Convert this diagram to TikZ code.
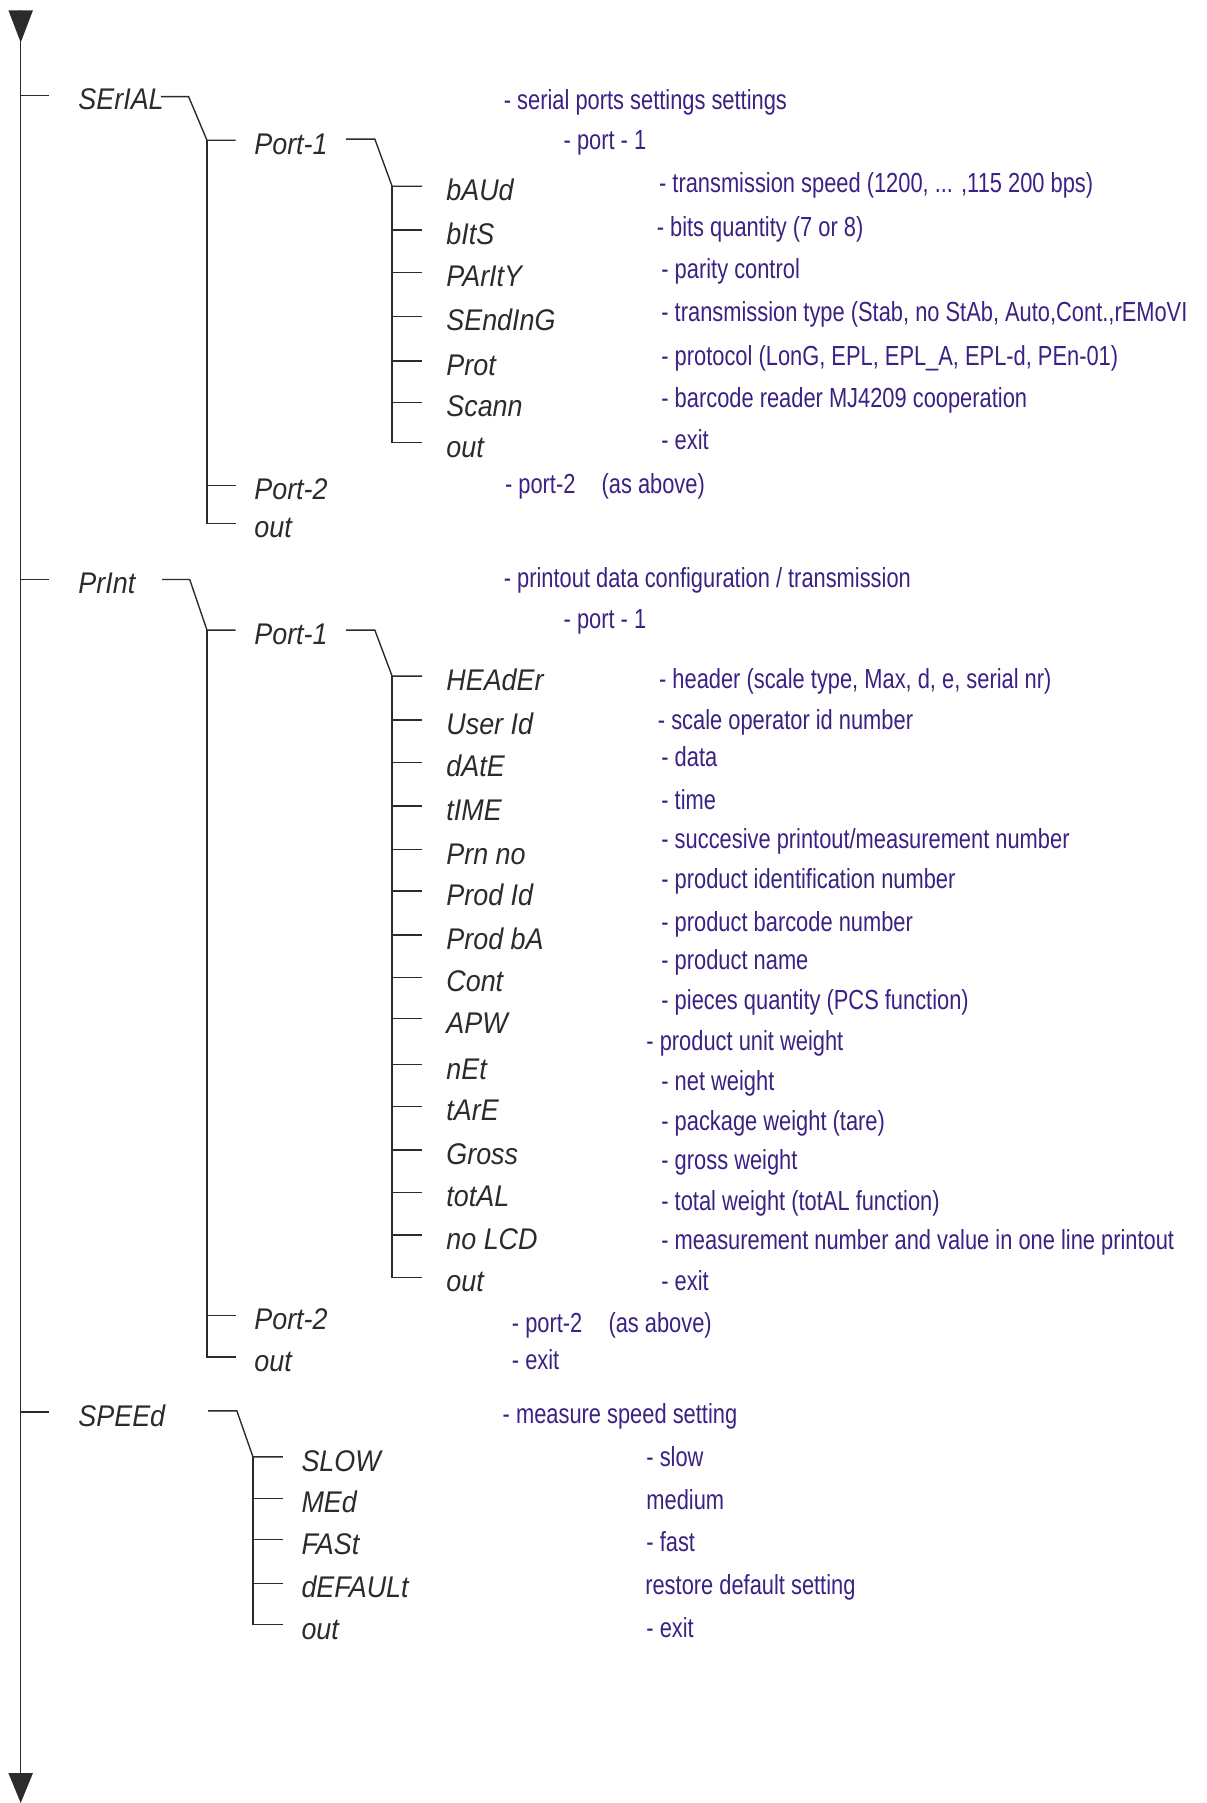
\documentclass[tikz,border=0pt]{standalone}
\usepackage{fontspec}
\setmainfont{Liberation Sans}
\newfontfamily\menufont[FakeStretch=0.9]{Liberation Sans}
\newfontfamily\notefont[FakeStretch=0.792]{Liberation Sans}
\usetikzlibrary{arrows.meta}
\definecolor{menugray}{HTML}{2B2B2B}
\definecolor{noteviolet}{HTML}{3B2184}
\tikzset{
  menu/.style={anchor=west,inner sep=0pt,text height=19bp,text depth=0bp,text=menugray,
    font=\menufont\itshape\fontsize{26bp}{30bp}\selectfont},
  note/.style={anchor=west,inner sep=0pt,text height=16bp,text depth=0bp,text=noteviolet,
    font=\notefont\fontsize{24bp}{28bp}\selectfont},
  tree/.style={draw=menugray,line width=1.2bp},
}
\begin{document}
\begin{tikzpicture}[x=1bp,y=-1bp,>=latex]
\useasboundingbox (0,0) rectangle (1049,1568);
%% main line
\coordinate (top) at (18,9);
\coordinate (bot) at (18,1568);
\draw [tree,{Triangle[reversed,width=21bp,length=28bp]}-{Triangle[width=21bp,length=26bp]}] (top) -- (bot);
%% SErIAL
\node (serial) at (68,86) [menu] {SErIAL};
\node (s1port1) at (221,125) [menu] {Port-1};
\node (s1baud) at (388,165) [menu] {bAUd};
\node (s1bits) at (388,203) [menu] {bItS};
\node (s1parity) at (388,240) [menu] {PArItY};
\node (s1sending) at (388,278) [menu] {SEndInG};
\node (s1prot) at (388,317) [menu] {Prot};
\node (s1scann) at (388,353) [menu] {Scann};
\node (s1p1out) at (388,388) [menu] {out};
\node (s1port2) at (221,425) [menu] {Port-2};
\node (s1out) at (221,458) [menu] {out};
%
\coordinate (k1a) at (140,84);
\coordinate (k1b) at (164,84);
\coordinate (k1c) at (180,122);
\coordinate (k11a) at (301,121);
\coordinate (k11b) at (326,121);
\coordinate (k11c) at (341,162);
\draw [tree] (top) |- ([xshift=-25bp,yshift=3bp]serial.west);
\draw [tree] (k1a) -- (k1b) -- (k1c) |- ([xshift=-16bp,yshift=3bp]s1port1.west);
\draw [tree] (k1c) |- ([xshift=-16bp,yshift=3bp]s1port2.west);
\draw [tree] (k1c) |- ([xshift=-16bp,yshift=3bp]s1out.west);
\draw [tree] (k11a) -- (k11b) -- (k11c) |- ([xshift=-21bp,yshift=3bp]s1baud.west);
\draw [tree] (k11c) |- ([xshift=-21bp,yshift=3bp]s1bits.west);
\draw [tree] (k11c) |- ([xshift=-21bp,yshift=3bp]s1parity.west);
\draw [tree] (k11c) |- ([xshift=-21bp,yshift=3bp]s1sending.west);
\draw [tree] (k11c) |- ([xshift=-21bp,yshift=3bp]s1prot.west);
\draw [tree] (k11c) |- ([xshift=-21bp,yshift=3bp]s1scann.west);
\draw [tree] (k11c) |- ([xshift=-21bp,yshift=3bp]s1p1out.west);
%
\node (d1serial) at (438,87) [note] {- serial ports settings settings};
\node (d1port1) at (490,122) [note] {- port - 1};
\node (d1baud) at (573,159) [note] {- transmission speed (1200, ... ,115 200 bps)};
\node (d1bits) at (571,198) [note] {- bits quantity (7 or 8)};
\node (d1parity) at (575,234) [note] {- parity control};
\node (d1sending) at (575,272) [note] {- transmission type (Stab, no StAb, Auto,Cont.,rEMoVI};
\node (d1prot) at (575,310) [note] {- protocol (LonG, EPL, EPL\_A, EPL-d, PEn-01)};
\node (d1scann) at (575,346) [note] {- barcode reader MJ4209 cooperation};
\node (d1p1out) at (575,383) [note] {- exit};
\node (d1port2) at (439,421) [note] {- port-2};
\node (d1above) at (523,421) [note] {(as above)};
%% PrInt
\node (print) at (68,507) [menu] {PrInt};
\node (s2port1) at (221,551) [menu] {Port-1};
\node (s2header) at (388,591) [menu] {HEAdEr};
\node (s2user) at (388,629) [menu] {User Id};
\node (s2date) at (388,666) [menu] {dAtE};
\node (s2time) at (388,704) [menu] {tIME};
\node (s2prn) at (388,742) [menu] {Prn no};
\node (s2prodid) at (388,778) [menu] {Prod Id};
\node (s2prodba) at (388,816) [menu] {Prod bA};
\node (s2cont) at (388,853) [menu] {Cont};
\node (s2apw) at (388,889) [menu] {APW};
\node (s2net) at (388,929) [menu] {nEt};
\node (s2tare) at (388,965) [menu] {tArE};
\node (s2gross) at (388,1003) [menu] {Gross};
\node (s2total) at (388,1040) [menu] {totAL};
\node (s2nolcd) at (388,1077) [menu] {no LCD};
\node (s2p1out) at (388,1114) [menu] {out};
\node (s2port2) at (221,1147) [menu] {Port-2};
\node (s2out) at (221,1183) [menu] {out};
%
\coordinate (k2a) at (141,504);
\coordinate (k2b) at (165,504);
\coordinate (k2c) at (180,548);
\coordinate (k21a) at (301,548);
\coordinate (k21b) at (326,548);
\coordinate (k21c) at (341,588);
\draw [tree] (top) |- ([xshift=-25bp,yshift=3bp]print.west);
\draw [tree] (k2a) -- (k2b) -- (k2c) |- ([xshift=-16bp,yshift=3bp]s2port1.west);
\draw [tree] (k2c) |- ([xshift=-16bp,yshift=3bp]s2port2.west);
\draw [tree] (k2c) |- ([xshift=-16bp,yshift=3bp]s2out.west);
\draw [tree] (k21a) -- (k21b) -- (k21c) |- ([xshift=-21bp,yshift=3bp]s2header.west);
\draw [tree] (k21c) |- ([xshift=-21bp,yshift=3bp]s2user.west);
\draw [tree] (k21c) |- ([xshift=-21bp,yshift=3bp]s2date.west);
\draw [tree] (k21c) |- ([xshift=-21bp,yshift=3bp]s2time.west);
\draw [tree] (k21c) |- ([xshift=-21bp,yshift=3bp]s2prn.west);
\draw [tree] (k21c) |- ([xshift=-21bp,yshift=3bp]s2prodid.west);
\draw [tree] (k21c) |- ([xshift=-21bp,yshift=3bp]s2prodba.west);
\draw [tree] (k21c) |- ([xshift=-21bp,yshift=3bp]s2cont.west);
\draw [tree] (k21c) |- ([xshift=-21bp,yshift=3bp]s2apw.west);
\draw [tree] (k21c) |- ([xshift=-21bp,yshift=3bp]s2net.west);
\draw [tree] (k21c) |- ([xshift=-21bp,yshift=3bp]s2tare.west);
\draw [tree] (k21c) |- ([xshift=-21bp,yshift=3bp]s2gross.west);
\draw [tree] (k21c) |- ([xshift=-21bp,yshift=3bp]s2total.west);
\draw [tree] (k21c) |- ([xshift=-21bp,yshift=3bp]s2nolcd.west);
\draw [tree] (k21c) |- ([xshift=-21bp,yshift=3bp]s2p1out.west);
%
\node (d2print) at (438,503) [note] {- printout data configuration / transmission};
\node (d2port1) at (490,539) [note] {- port - 1};
\node (d2header) at (573,591) [note] {- header (scale type, Max, d, e, serial nr)};
\node (d2user) at (572,626) [note] {- scale operator id number};
\node (d2date) at (575,659) [note] {- data};
\node (d2time) at (575,696) [note] {- time};
\node (d2prn) at (575,730) [note] {- succesive printout/measurement number};
\node (d2prodid) at (575,765) [note] {- product identification number};
\node (d2prodba) at (575,802) [note] {- product barcode number};
\node (d2name) at (575,835) [note] {- product name};
\node (d2cont) at (575,870) [note] {- pieces quantity (PCS function)};
\node (d2apw) at (562,906) [note] {- product unit weight};
\node (d2net) at (575,940) [note] {- net weight};
\node (d2tare) at (575,975) [note] {- package weight (tare)};
\node (d2gross) at (575,1009) [note] {- gross weight};
\node (d2total) at (575,1045) [note] {- total weight (totAL function)};
\node (d2nolcd) at (575,1079) [note] {- measurement number and value in one line printout};
\node (d2p1out) at (575,1114) [note] {- exit};
\node (d2port2) at (445,1151) [note] {- port-2};
\node (d2above) at (529,1151) [note] {(as above)};
\node (d2out) at (445,1183) [note] {- exit};
%% SPEEd
\node (speed) at (68,1231) [menu] {SPEEd};
\node (s3slow) at (262,1270) [menu] {SLOW};
\node (s3med) at (262,1306) [menu] {MEd};
\node (s3fast) at (262,1342) [menu] {FASt};
\node (s3default) at (262,1380) [menu] {dEFAULt};
\node (s3out) at (262,1416) [menu] {out};
%
\coordinate (k3a) at (181,1227);
\coordinate (k3b) at (206,1227);
\coordinate (k3c) at (220,1267);
\draw [tree] (top) |- ([xshift=-25bp,yshift=3bp]speed.west);
\draw [tree] (k3a) -- (k3b) -- (k3c) |- ([xshift=-16bp,yshift=3bp]s3slow.west);
\draw [tree] (k3c) |- ([xshift=-16bp,yshift=3bp]s3med.west);
\draw [tree] (k3c) |- ([xshift=-16bp,yshift=3bp]s3fast.west);
\draw [tree] (k3c) |- ([xshift=-16bp,yshift=3bp]s3default.west);
\draw [tree] (k3c) |- ([xshift=-16bp,yshift=3bp]s3out.west);
%
\node (d3speed) at (437,1230) [note] {- measure speed setting};
\node (d3slow) at (562,1267) [note] {- slow};
\node (d3med) at (562,1305) [note] {medium};
\node (d3fast) at (562,1341) [note] {- fast};
\node (d3default) at (561,1379) [note] {restore default setting};
\node (d3out) at (562,1416) [note] {- exit};
%
\end{tikzpicture}
\end{document}
